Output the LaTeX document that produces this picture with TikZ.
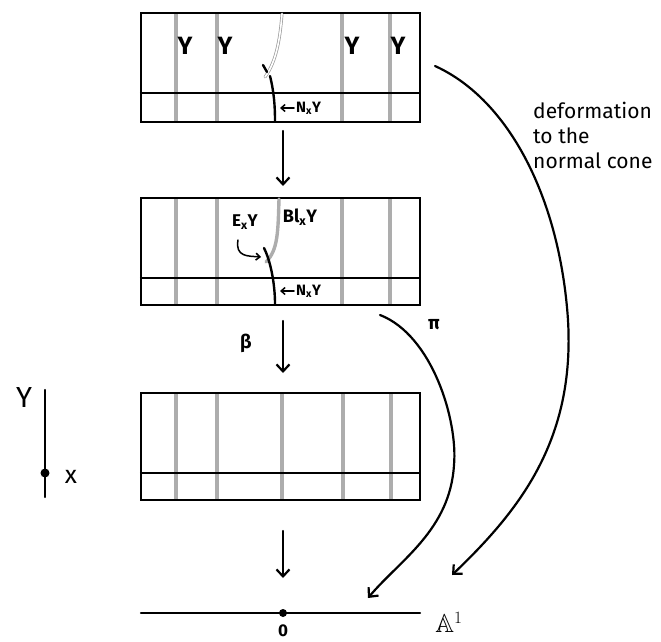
\documentclass[tikz,border=0pt]{standalone}
\usepackage{amssymb}
\usepackage{fontspec}
\setmainfont{Fira Sans}
\usetikzlibrary{arrows.meta}
\begin{document}
\begin{tikzpicture}[x=1pt,y=-1pt,
  box/.style={draw=black,line width=2.5pt,minimum width=279pt,inner sep=0pt,rectangle},
  sep/.style={line width=2.5pt},
  fib/.style={draw=black!32,line width=3.4pt},
  ink/.style={line width=2.4pt,line cap=round},
  conn/.style={line width=2.2pt,line cap=round,-{Straight Barb[length=7pt,width=13pt,line width=2.2pt]}},
  smallconn/.style={line width=1.5pt,line cap=round,-{Straight Barb[length=4pt,width=7pt,line width=1.5pt]}},
  bigY/.style={inner sep=0pt,font=\bfseries\fontsize{25}{27}\selectfont},
  midlbl/.style={inner sep=0pt,font=\bfseries\fontsize{15}{17}\selectfont},
  txt/.style={inner sep=0pt,font=\fontsize{21}{25}\selectfont},
  dot/.style={circle,fill=black,inner sep=0pt,minimum size=8pt}]
\useasboundingbox (0,0) rectangle (661,642);

% ---------- box 1 ----------
\foreach \gx in {176,217,342,390} \draw[fib] (\gx,13) -- (\gx,122);
\node[box,minimum height=109pt] (b1) at (280.5,67.5) {};
\draw[sep] (b1.west |- 0,93) -- (b1.east |- 0,93);
\foreach \gx/\nm in {185/ya,225/yb,352/yc,398/yd} \node[bigY] (\nm) at (\gx,46) {Y};
\draw[draw=black!40,double=white,double distance=1.6pt,line width=0.7pt,line cap=round]
  (282,14) .. controls (280,40) and (276,62) .. (265,77);
\draw[ink] (263,65) -- (267,72);
\draw[ink] (270,76) .. controls (274,92) and (275,106) .. (275,121);
\node[midlbl,anchor=west] (n1) at (296,108) {N\textsubscript{x}Y};
\coordinate (n1a) at (280,108);
\draw[smallconn] (n1.west) ++(-2,0) coordinate (n1s) (n1s) -- (n1a);

% ---------- arrow 1 ----------
\coordinate (a1s) at (283,131);
\coordinate (a1e) at (283,186);
\draw[conn] (a1s) -- (a1e);

% ---------- box 2 ----------
\foreach \gx in {176,217,342,390} \draw[fib] (\gx,198) -- (\gx,305);
\node[box,minimum height=107pt] (b2) at (280.5,251.5) {};
\draw[sep] (b2.west |- 0,278) -- (b2.east |- 0,278);
\draw[fib,line cap=round] (279,199) .. controls (278,232) and (278,250) .. (266,262);
\draw[ink] (264,248) .. controls (271,262) and (275,285) .. (275,304);
\node[midlbl,font=\bfseries\fontsize{17}{19}\selectfont] (ex) at (245,222) {E\textsubscript{x}Y};
\node[midlbl,font=\bfseries\fontsize{18}{20}\selectfont] (bl) at (300,217) {Bl\textsubscript{x}Y};
\coordinate (exa) at (261,257);
\draw[smallconn] (238,240) .. controls (235,257) and (248,256) .. (exa);
\node[midlbl,anchor=west] (n2) at (296,291) {N\textsubscript{x}Y};
\coordinate (n2a) at (280,291);
\draw[smallconn] (n2.west) ++(-2,0) coordinate (n2s) (n2s) -- (n2a);

% ---------- beta arrow ----------
\coordinate (a2s) at (283,321);
\coordinate (a2e) at (283,373);
\draw[conn] (a2s) -- (a2e);
\node[midlbl,font=\bfseries\fontsize{19}{21}\selectfont] (beta) at (246,343) {β};

% ---------- box 3 ----------
\foreach \gx in {176,217,282,343,391} \draw[fib] (\gx,393) -- (\gx,500);
\node[box,minimum height=107pt] (b3) at (280.5,446.5) {};
\draw[sep] (b3.west |- 0,473) -- (b3.east |- 0,473);

% ---------- Y with point x ----------
\coordinate (yt) at (45,390);
\coordinate (yb) at (45,497);
\draw[ink] (yt) -- (yb);
\node[dot,minimum size=9pt] (xp) at (45,473) {};
\node[inner sep=0pt,font=\fontsize{29}{31}\selectfont] (Ylab) at (24,398) {Y};
\node[inner sep=0pt,font=\fontsize{25}{27}\selectfont] (xlab) at (71,477) {x};

% ---------- arrow 3 and A^1 ----------
\coordinate (a3s) at (283,531);
\coordinate (a3e) at (283,578);
\draw[conn] (a3s) -- (a3e);
\coordinate (lineL) at (141,613);
\coordinate (lineR) at (420,613);
\draw[ink] (lineL) -- (lineR);
\node[dot] (orig) at (283,613) {};
\node[inner sep=0pt,font=\bfseries\fontsize{17}{19}\selectfont] (zero) at (283,631) {0};
\node[inner sep=0pt,font=\fontsize{26}{28}\selectfont] (A1) at (449,622) {$\mathbb{A}^{1}$};

% ---------- pi arrow ----------
\coordinate (pis) at (380,315);
\coordinate (pie) at (368,598);
\draw[conn] (pis) .. controls (432,335) and (458,420) .. (454,465)
  .. controls (450,530) and (400,560) .. (pie);
\node[midlbl,font=\bfseries\fontsize{19}{21}\selectfont] (pi) at (434,325) {π};

% ---------- deformation arrow ----------
\coordinate (ds) at (435,66);
\coordinate (de) at (452,575);
\draw[conn] (ds) .. controls (510,100) and (560,200) .. (568,320)
  .. controls (575,440) and (520,510) .. (de);
\node[txt,anchor=north west,align=left] (deflab) at (533,102) {deformation\\to the\\normal cone};
\end{tikzpicture}
\end{document}
